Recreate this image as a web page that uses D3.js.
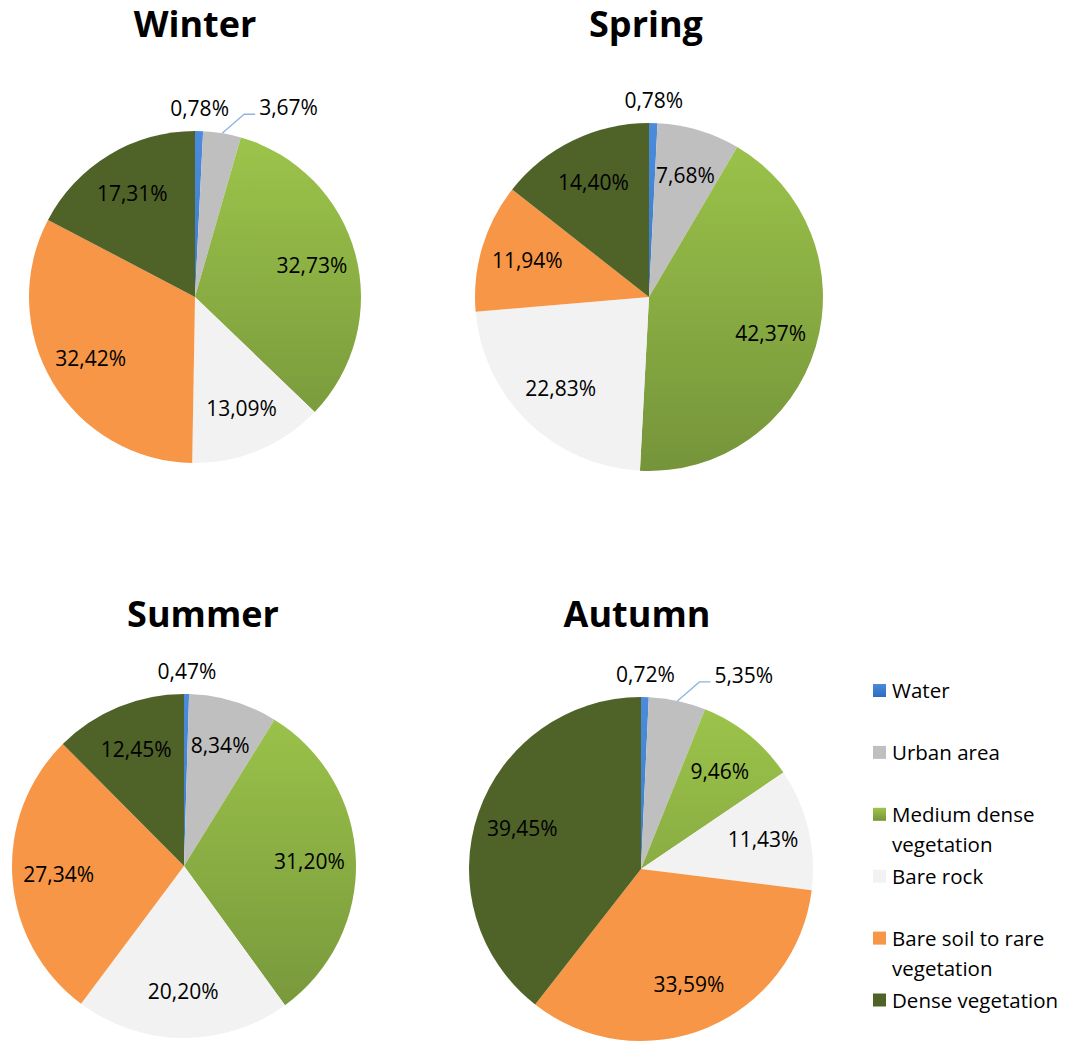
<!DOCTYPE html>
<html>
<head>
<meta charset="utf-8">
<script src="https://cdn.jsdelivr.net/npm/d3@7"></script>
<style>
  body { margin: 0; background: #fff; }
  text { font-family: "Open Sans", "Noto Sans", sans-serif; fill: #000; }
</style>
</head>
<body>
<div id="chart"></div>
<script>
/* DATA */

const categories = ["Water", "Urban area", "Medium dense vegetation", "Bare rock", "Bare soil to rare vegetation", "Dense vegetation"];
const legendLines = [["Water"], ["Urban area"], ["Medium dense", "vegetation"], ["Bare rock"], ["Bare soil to rare", "vegetation"], ["Dense vegetation"]];
const seasons = ["Winter", "Spring", "Summer", "Autumn"];

const winter = [0.78, 3.67, 32.73, 13.09, 32.42, 17.31];
const spring = [0.78, 7.68, 42.37, 22.83, 11.94, 14.40];
const summer = [0.47, 8.34, 31.20, 20.20, 27.34, 12.45];
const autumn = [0.72, 5.35, 9.46, 11.43, 33.59, 39.45];

/* SET UP */

const w = 1068;
const h = 1043;

// where each pie sits on the page
const layout = [
	{ cx: 195, cy: 297, r: 166, titleX: 195, titleY: 37 },
	{ cx: 649, cy: 297, r: 174, titleX: 646, titleY: 37 },
	{ cx: 184, cy: 866, r: 172, titleX: 203, titleY: 627 },
	{ cx: 641, cy: 869, r: 172, titleX: 637, titleY: 627 },
];
const seriesBySeason = [winter, spring, summer, autumn];

const colors = ["#3b7dd6", "#bfbfbf", "#8fb645", "#f2f2f2", "#f79646", "#4f6228"];
// gradient stops (top -> bottom) for the slices that are shaded in the original
const gradients = { 0: ["#4a8cdb", "#2f6bbf"], 2: ["#9dc54b", "#75943a"] };

const locale = d3.formatLocale({ decimal: ",", thousands: ".", grouping: [3], currency: ["", ""] });
const fmt = (v) => locale.format(".2f")(v) + "%";

const svg = d3
	.select("#chart")
	.append("svg")
	.attr("width", w)
	.attr("height", h);

svg.append("rect").attr("width", w).attr("height", h).attr("fill", "#fff");

const defs = svg.append("defs");

const pie = d3.pie().sort(null).value((d) => d);

/* MAKING THE PIES */

seasons.forEach((season, s) => {
	const L = layout[s];
	const data = seriesBySeason[s];
	const arcs = pie(data);

	// vertical gradients spanning the whole pie
	Object.keys(gradients).forEach((k) => {
		const g = defs
			.append("linearGradient")
			.attr("id", `grad-${s}-${k}`)
			.attr("gradientUnits", "userSpaceOnUse")
			.attr("x1", 0).attr("x2", 0)
			.attr("y1", -L.r).attr("y2", L.r);
		g.append("stop").attr("offset", "0%").attr("stop-color", gradients[k][0]);
		g.append("stop").attr("offset", "100%").attr("stop-color", gradients[k][1]);
	});

	const arc = d3.arc().innerRadius(0).outerRadius(L.r);
	const labelArc = d3.arc().innerRadius(L.r * 0.73).outerRadius(L.r * 0.73);

	const grp = svg.append("g").attr("transform", `translate(${L.cx},${L.cy})`);

	grp
		.selectAll("path")
		.data(arcs)
		.join("path")
		.attr("d", arc)
		.attr("fill", (d, i) => (gradients[i] ? `url(#grad-${s}-${i})` : colors[i]));

	// title
	svg
		.append("text")
		.attr("x", L.titleX)
		.attr("y", L.titleY)
		.attr("text-anchor", "middle")
		.style("font-size", "36px")
		.style("font-weight", "bold")
		.text(season);

	// labels
	arcs.forEach((d, i) => {
		const mid = (d.startAngle + d.endAngle) / 2;
		const pct = d.data;
		if (pct < 1) {
			// tiny slice: label above the pie
			const rr = L.r + 21;
			grp
				.append("text")
				.attr("x", Math.sin(mid) * rr)
				.attr("y", -Math.cos(mid) * rr + 6)
				.attr("text-anchor", "middle")
				.style("font-size", "21px")
				.text(fmt(pct));
		} else if (pct < 6) {
			// small slice: label outside with a leader line
			const x0 = Math.sin(mid) * L.r;
			const y0 = -Math.cos(mid) * L.r;
			const x1 = x0 + 22;
			const y1 = y0 - 19;
			const x2 = x1 + 11;
			grp
				.append("polyline")
				.attr("points", `${x0},${y0} ${x1},${y1} ${x2},${y1}`)
				.attr("fill", "none")
				.attr("stroke", "#8db4e2")
				.attr("stroke-width", 1.3);
			grp
				.append("text")
				.attr("x", x2 + 4)
				.attr("y", y1 + 1)
				.style("font-size", "21px")
				.text(fmt(pct));
		} else {
			const c = labelArc.centroid(d);
			grp
				.append("text")
				.attr("x", c[0])
				.attr("y", c[1])
				.attr("dy", "0.35em")
				.attr("text-anchor", "middle")
				.style("font-size", "21px")
				.text(fmt(pct));
		}
	});
});

/* LEGEND */

const legend = svg
	.append("g")
	.selectAll("g")
	.data(categories)
	.join("g")
	.attr("transform", (d, i) => `translate(873,${690.5 + i * 61.9})`);

legend
	.append("rect")
	.attr("x", 0)
	.attr("y", -6.5)
	.attr("width", 13)
	.attr("height", 13)
	.attr("fill", (d, i) => (gradients[i] ? `url(#legend-grad-${i})` : colors[i]));

Object.keys(gradients).forEach((k) => {
	const g = defs
		.append("linearGradient")
		.attr("id", `legend-grad-${k}`)
		.attr("x1", 0).attr("x2", 0)
		.attr("y1", 0).attr("y2", 1);
	g.append("stop").attr("offset", "0%").attr("stop-color", gradients[k][0]);
	g.append("stop").attr("offset", "100%").attr("stop-color", gradients[k][1]);
});

legend
	.append("text")
	.attr("x", 19)
	.attr("y", 7.5)
	.style("font-size", "20.5px")
	.selectAll("tspan")
	.data((d, i) => legendLines[i])
	.join("tspan")
	.attr("x", 19)
	.attr("dy", (d, j) => (j === 0 ? 0 : 30))
	.text((d) => d);
</script>
</body>
</html>
